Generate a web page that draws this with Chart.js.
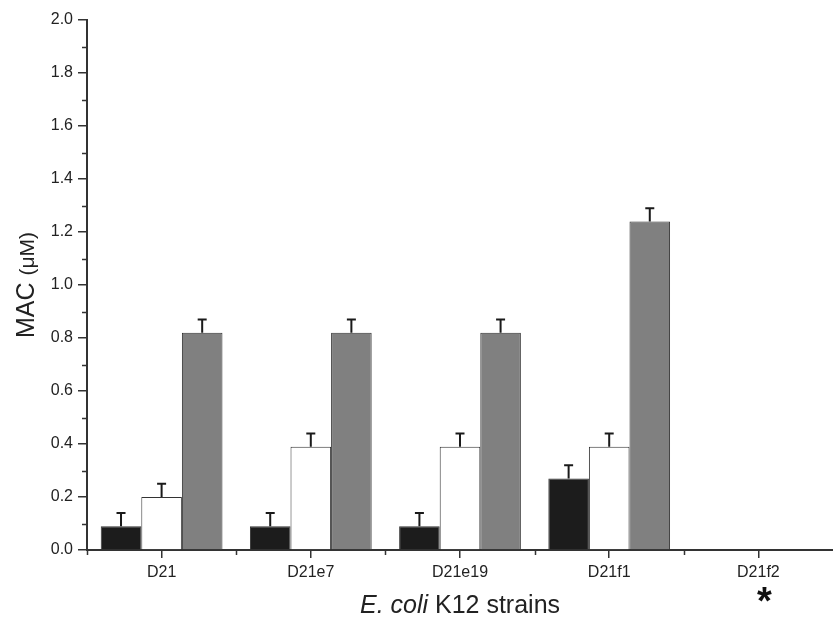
<!DOCTYPE html>
<html>
<head>
<meta charset="utf-8">
<script src="https://cdn.jsdelivr.net/npm/chart.js@4.4.1/dist/chart.umd.min.js"></script>
<style>
  html, body { margin: 0; padding: 0; background: #fff; }
  #wrap { position: relative; width: 833px; height: 619px; }
</style>
</head>
<body>
<div id="wrap"><canvas id="macChart" width="833" height="619"></canvas></div>
<script>
const strains = ['D21', 'D21e7', 'D21e19', 'D21f1', 'D21f2']
const blackVals = [0.09, 0.09, 0.09, 0.27, null]
const whiteVals = [0.20, 0.39, 0.39, 0.39, null]
const grayVals = [0.82, 0.82, 0.82, 1.24, null]
const blackErr = [0.05, 0.05, 0.05, 0.05, null]
const whiteErr = [0.05, 0.05, 0.05, 0.05, null]
const grayErr = [0.05, 0.05, 0.05, 0.05, null]
const noDataMark = ['', '', '', '', '*']

const FONT = "'Liberation Sans', Arial, sans-serif"
const INK = '#222'

// error bars, minor ticks, axis titles and the asterisk
const extras = {
    id: 'extras',
    afterDatasetsDraw(chart) {
        const ctx = chart.ctx
        const y = chart.scales.y
        ctx.save()
        ctx.strokeStyle = '#1a1a1a'
        ctx.lineWidth = 2
        chart.data.datasets.forEach((ds, di) => {
            const meta = chart.getDatasetMeta(di)
            ds.errors.forEach((err, i) => {
                if (err == null || ds.data[i] == null) return
                const bar = meta.data[i]
                const top = y.getPixelForValue(ds.data[i] + err)
                ctx.beginPath()
                ctx.moveTo(bar.x, bar.y)
                ctx.lineTo(bar.x, top)
                ctx.moveTo(bar.x - 4.5, top)
                ctx.lineTo(bar.x + 4.5, top)
                ctx.stroke()
            })
        })
        ctx.restore()
    },
    afterDraw(chart) {
        const ctx = chart.ctx
        const x = chart.scales.x
        const y = chart.scales.y
        const area = chart.chartArea
        ctx.save()
        ctx.strokeStyle = '#333'
        ctx.lineWidth = 1.5
        ctx.beginPath()
        // minor y ticks
        for (let v = 0.1; v < 2.0; v += 0.2) {
            const py = Math.round(y.getPixelForValue(v)) + 0.5
            ctx.moveTo(area.left - 5, py)
            ctx.lineTo(area.left, py)
        }
        // minor x ticks at category borders
        for (let i = 0; i < strains.length; i++) {
            const px = Math.round(x.getPixelForValue(i) - x.width / strains.length / 2) + 0.5
            ctx.moveTo(px, area.bottom)
            ctx.lineTo(px, area.bottom + 5)
        }
        ctx.stroke()

        // y title: MAC (μM)
        ctx.fillStyle = INK
        ctx.translate(34, (area.top + area.bottom) / 2)
        ctx.rotate(-Math.PI / 2)
        ctx.textBaseline = 'alphabetic'
        ctx.font = '25px ' + FONT
        const w1 = ctx.measureText('MAC ').width
        ctx.font = '21px ' + FONT
        const w2 = ctx.measureText('(μM)').width
        let sx = -(w1 + w2) / 2
        ctx.font = '25px ' + FONT
        ctx.textAlign = 'left'
        ctx.fillText('MAC ', sx, 0)
        ctx.font = '21px ' + FONT
        ctx.fillText('(μM)', sx + w1, 0)
        ctx.setTransform(1, 0, 0, 1, 0, 0)

        // x title: E. coli K12 strains
        ctx.font = 'italic 25px ' + FONT
        const a = ctx.measureText('E. coli').width
        ctx.font = '25px ' + FONT
        const b = ctx.measureText(' K12 strains').width
        let tx = (area.left + area.right) / 2 - (a + b) / 2
        ctx.textAlign = 'left'
        ctx.font = 'italic 25px ' + FONT
        ctx.fillText('E. coli', tx, 613)
        ctx.font = '25px ' + FONT
        ctx.fillText(' K12 strains', tx + a, 613)

        // asterisk for strain without data
        ctx.font = 'bold 38px ' + FONT
        ctx.textAlign = 'center'
        ctx.fillStyle = '#111'
        noDataMark.forEach((m, i) => {
            if (m) ctx.fillText(m, x.getPixelForValue(i) + 6, 614)
        })
        ctx.restore()
    }
}

const chartData = {
    labels: strains,
    datasets: [
        { label: 'black', data: blackVals, errors: blackErr, backgroundColor: '#1c1c1c' },
        { label: 'white', data: whiteVals, errors: whiteErr, backgroundColor: '#ffffff' },
        { label: 'gray', data: grayVals, errors: grayErr, backgroundColor: '#808080' }
    ].map(ds => Object.assign(ds, {
        borderColor: '#333',
        borderWidth: 1,
        borderSkipped: 'bottom',
        barPercentage: 1.0,
        categoryPercentage: 0.816
    }))
}

const chartOptions = {
    responsive: false,
    animation: false,
    layout: { padding: { top: 20, right: 0, left: 0, bottom: 0 } },
    plugins: {
        legend: { display: false },
        tooltip: { enabled: false }
    },
    scales: {
        x: {
            offset: true,
            grid: { display: true, drawOnChartArea: false, offset: false, tickLength: 8, color: '#333', lineWidth: 1.5 },
            border: { display: true, color: '#333', width: 2 },
            ticks: { color: INK, font: { family: FONT, size: 16 }, padding: 5, maxRotation: 0 },
            afterFit(scale) { scale.height = 69 }
        },
        y: {
            min: 0,
            max: 2.0,
            grid: { display: true, drawOnChartArea: false, tickLength: 9, color: '#333', lineWidth: 1.5 },
            border: { display: true, color: '#333', width: 2 },
            ticks: {
                stepSize: 0.2,
                color: INK,
                font: { family: FONT, size: 16 },
                padding: 5,
                callback: v => v.toFixed(1)
            },
            afterFit(scale) { scale.width = 87 }
        }
    }
}

new Chart(document.getElementById('macChart').getContext('2d'), {
    type: 'bar',
    data: chartData,
    options: chartOptions,
    plugins: [extras]
})
</script>
</body>
</html>
